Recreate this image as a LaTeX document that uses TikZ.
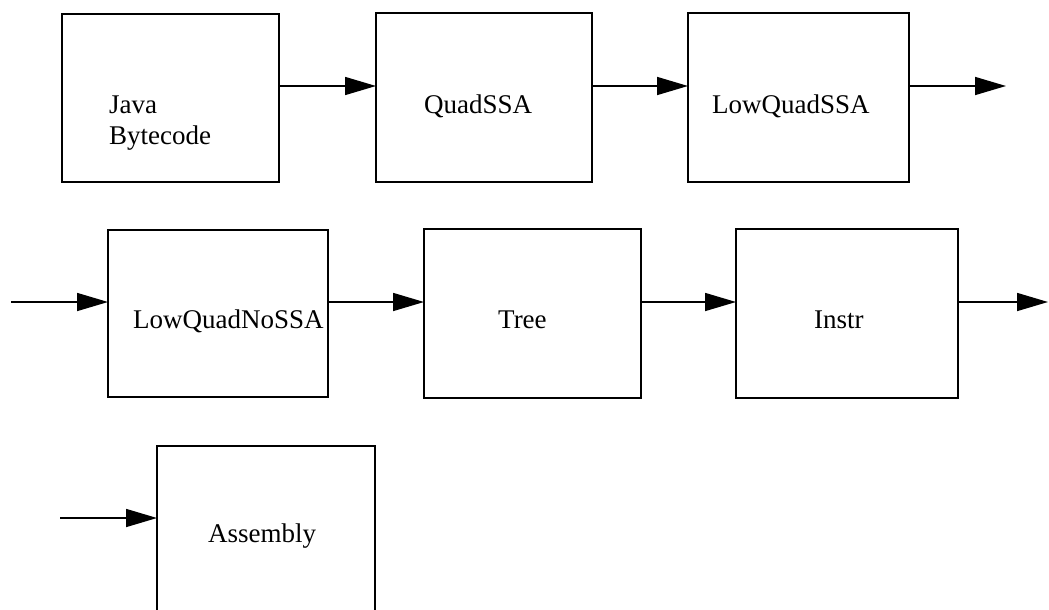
\documentclass[tikz,border=0pt]{standalone}
\usepackage{fontspec}
\setmainfont{Liberation Serif}
\usetikzlibrary{arrows.meta}
\begin{document}
\begin{tikzpicture}[x=1pt,y=-1pt,
  stage/.style={draw=black, line width=1.8pt, inner sep=0pt, outer sep=0pt},
  lbl/.style={anchor=base west, inner sep=0pt, font=\fontsize{27}{31}\selectfont},
  flow/.style={line width=1.6pt, -{Triangle[length=31pt,width=18pt]}}]
  \useasboundingbox (0,0) rectangle (1049,610);
  \clip (0,0) rectangle (1049,610);

  % row anchors for the connectors
  \coordinate (r1) at (0,86);
  \coordinate (r2) at (0,302);
  \coordinate (r3) at (0,518);

  % first row
  \node[stage, minimum width=217pt, minimum height=168pt] (B1) at (170.5,98) {};
  \node[stage, minimum width=216pt, minimum height=169pt] (B2) at (484,97.5) {};
  \node[stage, minimum width=221pt, minimum height=169pt] (B3) at (798.5,97.5) {};
  % second row
  \node[stage, minimum width=220pt, minimum height=167pt] (B4) at (218,313.5) {};
  \node[stage, minimum width=217pt, minimum height=169pt] (B5) at (532.5,313.5) {};
  \node[stage, minimum width=222pt, minimum height=169pt] (B6) at (847,313.5) {};
  % third row
  \node[stage, minimum width=218pt, minimum height=168pt] (B7) at (266,530) {};

  % labels
  \node[lbl] (tJava) at (109,113) {Java};
  \node[lbl] (tByte) at (109,144) {Bytecode};
  \node[lbl] (tQuad) at (424,113) {QuadSSA};
  \node[lbl] (tLowQ) at (712,113) {LowQuadSSA};
  \node[lbl] (tLowN) at (133,328) {LowQuadNoSSA};
  \node[lbl] (tTree) at (498,328) {Tree};
  \node[lbl] (tInstr) at (814,328) {Instr};
  \node[lbl] (tAsm) at (208,542) {Assembly};

  % open ends of the wrapped connectors
  \coordinate (o1) at (1006,86);
  \coordinate (i2) at (11,302);
  \coordinate (o2) at (1048,302);
  \coordinate (i3) at (60,518);

  \draw[flow] (B1.east |- r1) -- (B2.west |- r1);
  \draw[flow] (B2.east |- r1) -- (B3.west |- r1);
  \draw[flow] (B3.east |- r1) -- (o1);
  \draw[flow] (i2) -- (B4.west |- r2);
  \draw[flow] (B4.east |- r2) -- (B5.west |- r2);
  \draw[flow] (B5.east |- r2) -- (B6.west |- r2);
  \draw[flow] (B6.east |- r2) -- (o2);
  \draw[flow] (i3) -- (B7.west |- r3);
\end{tikzpicture}
\end{document}
